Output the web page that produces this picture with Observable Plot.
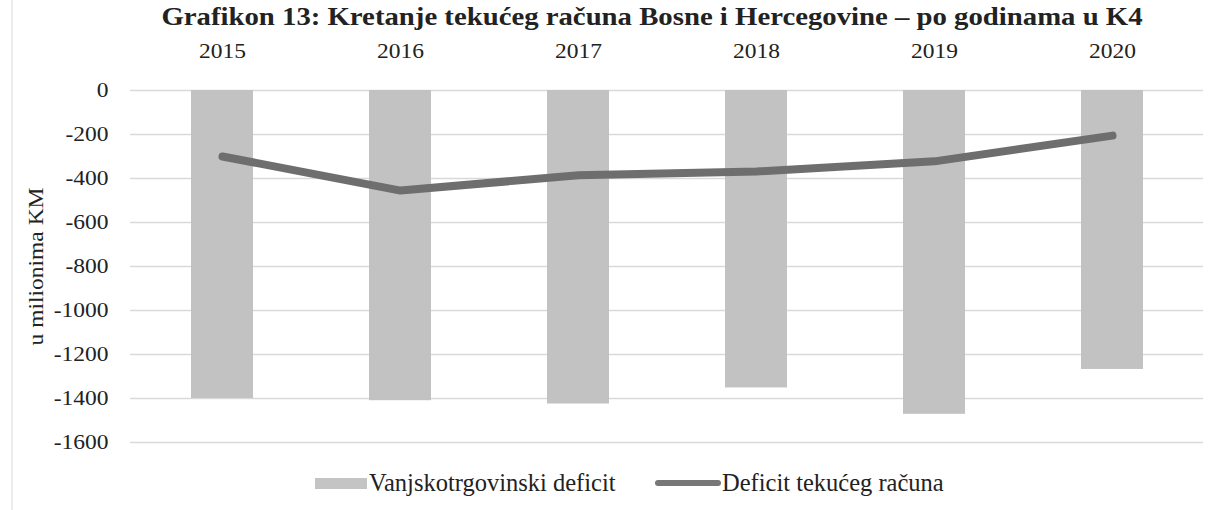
<!DOCTYPE html>
<html>
<head>
<meta charset="utf-8">
<script src="https://cdn.jsdelivr.net/npm/d3@7"></script>
<script src="https://cdn.jsdelivr.net/npm/@observablehq/plot@0.6"></script>
<style>
  body { margin: 0; background: #fff; width: 1220px; height: 510px; overflow: hidden; font-family: "Liberation Serif", "DejaVu Serif", serif; }
  #wrap { position: relative; width: 1220px; height: 510px; }
  #edge { position: absolute; left: 11px; top: 0; width: 2px; height: 510px; background: #ececec; }
  #title { position: absolute; left: 652px; top: 3px; transform: translateX(-50%) scaleX(1.15); font-weight: bold; font-size: 25px; color: #222; white-space: nowrap; }
  #chart { position: absolute; left: 0; top: 34px; }
  .lg { position: absolute; font-size: 24.5px; color: #222; white-space: nowrap; line-height: 1; }
  .sw1 { position: absolute; left: 315px; top: 478px; width: 52px; height: 11px; background: #c4c4c4; }
  .sw2 { position: absolute; left: 655px; top: 480px; width: 66px; height: 6px; background: #777; border-radius: 3px; }
  #t1 { left: 369px; top: 471px; }
  #t2 { left: 722px; top: 471px; }
</style>
</head>
<body>
<div id="wrap">
  <div id="edge"></div>
  <div id="title">Grafikon 13: Kretanje tekućeg računa Bosne i Hercegovine – po godinama u K4</div>
  <div id="chart"></div>
  <div class="sw1"></div><div class="lg" id="t1">Vanjskotrgovinski deficit</div>
  <div class="sw2"></div><div class="lg" id="t2">Deficit tekućeg računa</div>
</div>
<script>
const years = ["2015", "2016", "2017", "2018", "2019", "2020"];
const tradeDeficit = [-1400, -1410, -1425, -1352, -1472, -1268];
const currentAccount = [-300, -455, -385, -368, -322, -205];
const yTicks = [0, -200, -400, -600, -800, -1000, -1200, -1400, -1600];

const data = years.map((y, i) => ({ year: y, trade: tradeDeficit[i], ca: currentAccount[i] }));

const chart = Plot.plot({
  width: 1220,
  height: 425,
  marginTop: 56,
  marginBottom: 17,
  marginLeft: 130,
  marginRight: 17,
  style: { fontFamily: "'Liberation Serif', serif", fontSize: "21px", color: "#222", background: "transparent" },
  x: { domain: years, paddingInner: 0.654, paddingOuter: 0.327 },
  y: { domain: [-1600, 0] },
  marks: [
    Plot.gridY(yTicks, { stroke: "#d9d9d9", strokeOpacity: 1, strokeWidth: 1.5 }),
    Plot.barY(data, { x: "year", y1: 0, y2: "trade", fill: "#c2c2c2" }),
    Plot.lineY(data, { x: "year", y: "ca", stroke: "#6e6e6e", strokeWidth: 8, strokeLinecap: "round", strokeLinejoin: "round" }),
    Plot.axisX({ anchor: "top", tickSize: 0, tickPadding: 33, label: null, fontSize: 21 }),
    Plot.axisY({ ticks: yTicks, tickSize: 0, tickPadding: 22, tickFormat: d => String(d), label: "u milionima KM", labelAnchor: "center", labelOffset: 102, labelArrow: false, fontSize: 21 })
  ]
});
d3.select(chart).selectAll("text").each(function () {
  const t = this.getAttribute("transform");
  if (t) this.setAttribute("transform", t + " scale(1.12,1)");
});
document.getElementById("chart").appendChild(chart);
</script>
</body>
</html>
